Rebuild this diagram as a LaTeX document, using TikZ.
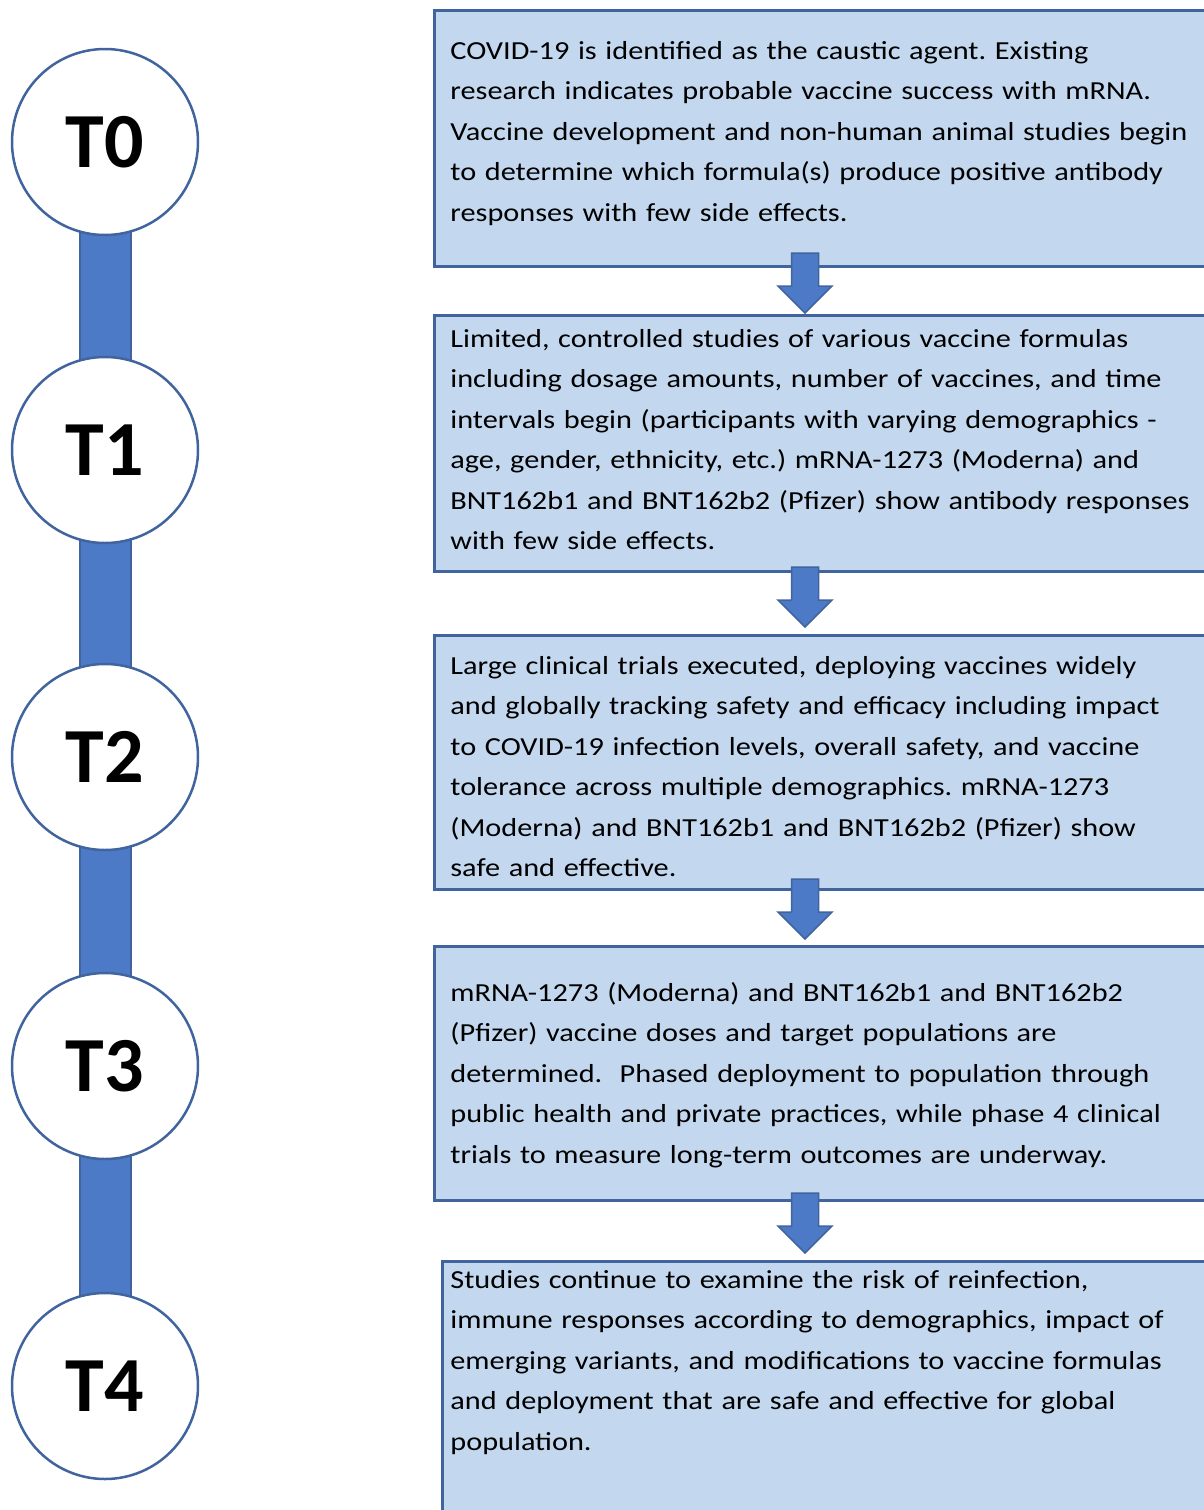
\documentclass[tikz,border=0pt]{standalone}
\usepackage{fontspec}
\setmainfont{Carlito}
\newfontfamily\descfont[FakeStretch=1.165]{Carlito}
\usepackage{xcolor}
\usetikzlibrary{calc,positioning,backgrounds}
\definecolor{boxfill}{HTML}{C3D8EF}
\definecolor{boxline}{HTML}{41649F}
\definecolor{barfill}{HTML}{4D7AC7}
\frenchspacing

\begin{document}
\begin{tikzpicture}[x=1pt, y=-1pt, thick, bar/.style={draw=boxline, line width=2pt, fill=barfill}, downarrow/.style={draw=boxline, line width=1.5pt, fill=barfill, line join=miter}]
% Define styles for stages, blocks and their texts
\tikzstyle{stage} = [draw=boxline, line width=2.5pt, fill=white, circle, minimum size=186pt, inner sep=0pt, font=\fontsize{78}{80}\selectfont\bfseries]
\tikzstyle{block} = [draw=boxline, line width=3pt, fill=boxfill, rectangle, anchor=north west, minimum width=800pt, inner sep=0pt]
\tikzstyle{desc} = [anchor=base west, inner sep=0pt, text width=800pt, align=left, font=\descfont\fontsize{26}{40.5}\selectfont]

\useasboundingbox (0,0) rectangle (1204,1510);
\clip (0,0) rectangle (1204,1510);

% Timeline stages
\node [stage] (t0) at (105,142) {T0};
\node [stage, below of=t0, node distance=308pt] (t1) {T1};
\node [stage, below of=t1, node distance=307pt] (t2) {T2};
\node [stage, below of=t2, node distance=309pt] (t3) {T3};
\node [stage, below of=t3, node distance=320pt] (t4) {T4};

% Bar behind the stages
\begin{scope}[on background layer]
\draw[bar] ($(t0.center) + (-25.5,0)$) rectangle ($(t4.center) + (25.5,0)$);
\end{scope}

% Blocks
\node [block, minimum height=256pt] (box0) at (433,9) {};
\node [block, minimum height=256pt] (box1) at (433,314) {};
\node [block, minimum height=254pt] (box2) at (433,634) {};
\node [block, minimum height=254pt] (box3) at (433,945) {};
\node [block, minimum height=280pt] (box4) at (441,1260) {};

% Texts of the blocks
\node [desc] (txt0) at (450,59) {COVID-19 is identified as the caustic agent. Existing\\
research indicates probable vaccine success with mRNA.\\
Vaccine development and non-human animal studies begin\\
to determine which formula(s) produce positive antibody\\
responses with few side effects.};
\node [desc] (txt1) at (450,347) {Limited, controlled studies of various vaccine formulas\\
including dosage amounts, number of vaccines, and time\\
intervals begin (participants with varying demographics -\\
age, gender, ethnicity, etc.) mRNA-1273 (Moderna) and\\
BNT162b1 and BNT162b2 (Pfizer) show antibody responses\\
with few side effects.};
\node [desc] (txt2) at (450,674) {Large clinical trials executed, deploying vaccines widely\\
and globally tracking safety and efficacy including impact\\
to COVID-19 infection levels, overall safety, and vaccine\\
tolerance across multiple demographics. mRNA-1273\\
(Moderna) and BNT162b1 and BNT162b2 (Pfizer) show\\
safe and effective.};
\node [desc] (txt3) at (450,1001) {mRNA-1273 (Moderna) and BNT162b1 and BNT162b2\\
(Pfizer) vaccine doses and target populations are\\
determined.\ \ Phased deployment to population through\\
public health and private practices, while phase 4 clinical\\
trials to measure long-term outcomes are underway.};
\node [desc] (txt4) at (450,1288) {Studies continue to examine the risk of reinfection,\\
immune responses according to demographics, impact of\\
emerging variants, and modifications to vaccine formulas\\
and deployment that are safe and effective for global\\
population.};

% Block arrows between the blocks
\coordinate (a0) at (box0.south -| 805,0);
\coordinate (a1) at (box1.south -| 805,0);
\coordinate (a2) at (box2.south -| 805,0);
\coordinate (a3) at (box3.south -| 805,0);
\draw[downarrow] ($(a0) + (0,-15)$) -- ++(13.5,0) -- ++(0,33) -- ++(13.5,0) -- ++(-27,27) -- ++(-27,-27) -- ++(13.5,0) -- ++(0,-33) -- cycle;
\draw[downarrow] ($(a1) + (0,-6)$) -- ++(13.5,0) -- ++(0,33) -- ++(13.5,0) -- ++(-27,27) -- ++(-27,-27) -- ++(13.5,0) -- ++(0,-33) -- cycle;
\draw[downarrow] ($(a2) + (0,-12)$) -- ++(13.5,0) -- ++(0,33) -- ++(13.5,0) -- ++(-27,27) -- ++(-27,-27) -- ++(13.5,0) -- ++(0,-33) -- cycle;
\draw[downarrow] ($(a3) + (0,-9)$) -- ++(13.5,0) -- ++(0,33) -- ++(13.5,0) -- ++(-27,27) -- ++(-27,-27) -- ++(13.5,0) -- ++(0,-33) -- cycle;
\end{tikzpicture}
\end{document}
